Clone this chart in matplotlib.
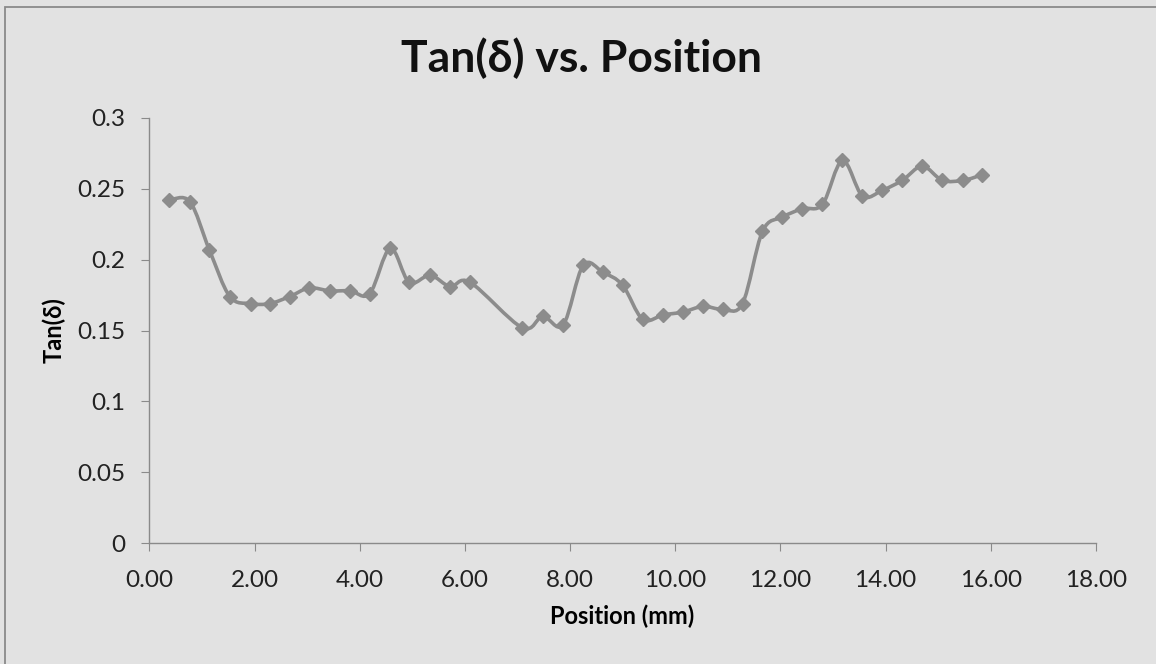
import numpy as np
import matplotlib.pyplot as plt
from matplotlib.path import Path
from matplotlib.patches import PathPatch, Rectangle

# data
position = [0.38, 0.77, 1.14, 1.53, 1.93, 2.29, 2.67, 3.04, 3.44, 3.82,
            4.19, 4.58, 4.94, 5.34, 5.72, 6.10, 7.09, 7.48, 7.87, 8.25,
            8.63, 9.00, 9.38, 9.77, 10.14, 10.53, 10.90, 11.28, 11.66, 12.04,
            12.42, 12.80, 13.18, 13.56, 13.94, 14.32, 14.70, 15.08, 15.48, 15.84]
tan_delta = [0.242, 0.241, 0.207, 0.174, 0.169, 0.169, 0.174, 0.180, 0.178, 0.178,
             0.176, 0.208, 0.184, 0.189, 0.181, 0.184, 0.152, 0.160, 0.154, 0.196,
             0.191, 0.182, 0.158, 0.161, 0.163, 0.167, 0.165, 0.169, 0.220, 0.230,
             0.236, 0.239, 0.270, 0.245, 0.249, 0.256, 0.266, 0.256, 0.256, 0.260]
x_ticks = [0, 2, 4, 6, 8, 10, 12, 14, 16, 18]
y_ticks = [0, 0.05, 0.1, 0.15, 0.2, 0.25, 0.3]

plt.rcParams['font.family'] = ['Lato', 'DejaVu Sans']
bg = '#e2e2e2'
line_col = '#8c8c8c'

fig = plt.figure(figsize=(11.56, 6.64), dpi=100, facecolor=bg)
# outer chart border (only left and top edges fall inside the picture)
fig.patches.append(Rectangle((0.0039, -0.5), 1.5, 1.4902, transform=fig.transFigure,
                             fill=False, edgecolor='#8a8a8a', linewidth=1.3))
ax = fig.add_axes([0.1292, 0.1822, 0.8188, 0.6401])
ax.set_facecolor(bg)

# smoothed line like Excel (Catmull-Rom style bezier through the points)
x = np.array(position)
y = np.array(tan_delta)
verts = [(x[0], y[0])]
codes = [Path.MOVETO]
for i in range(len(x) - 1):
    x0, y0 = (x[i - 1], y[i - 1]) if i > 0 else (x[i], y[i])
    x3, y3 = (x[i + 2], y[i + 2]) if i + 2 < len(x) else (x[i + 1], y[i + 1])
    c1 = (x[i] + (x[i + 1] - x0) / 6, y[i] + (y[i + 1] - y0) / 6)
    c2 = (x[i + 1] - (x3 - x[i]) / 6, y[i + 1] - (y3 - y[i]) / 6)
    verts += [c1, c2, (x[i + 1], y[i + 1])]
    codes += [Path.CURVE4] * 3
ax.add_patch(PathPatch(Path(verts, codes), facecolor='none', edgecolor=line_col,
                       linewidth=2.6, capstyle='round', joinstyle='round'))
ax.plot(x, y, linestyle='none', marker='D', markersize=7.5, color=line_col)

ax.set_xlim(0, 18)
ax.set_ylim(0, 0.3)
ax.set_xticks(x_ticks)
ax.set_xticklabels([f'{v:.2f}' for v in x_ticks])
ax.set_yticks(y_ticks)
ax.set_yticklabels([f'{v:g}' for v in y_ticks])
for side in ['top', 'right']:
    ax.spines[side].set_visible(False)
for side in ['left', 'bottom']:
    ax.spines[side].set_color('#8a8a8a')
    ax.spines[side].set_linewidth(1.0)
ax.tick_params(direction='out', length=5.5, color='#8a8a8a', labelsize=17.5,
               labelcolor='#222222')
ax.tick_params(axis='x', pad=14)
ax.tick_params(axis='y', pad=12)

ax.set_xlabel('Position (mm)', fontsize=17, fontweight='bold', labelpad=10)
ax.set_ylabel('Tan(δ)', fontsize=17, fontweight='bold', labelpad=8)
fig.text(0.503, 0.912, 'Tan(δ) vs. Position', ha='center', va='center',
         fontsize=32, fontweight='bold', color='#111111')

fig.savefig('out.png', dpi=100, facecolor=bg)
